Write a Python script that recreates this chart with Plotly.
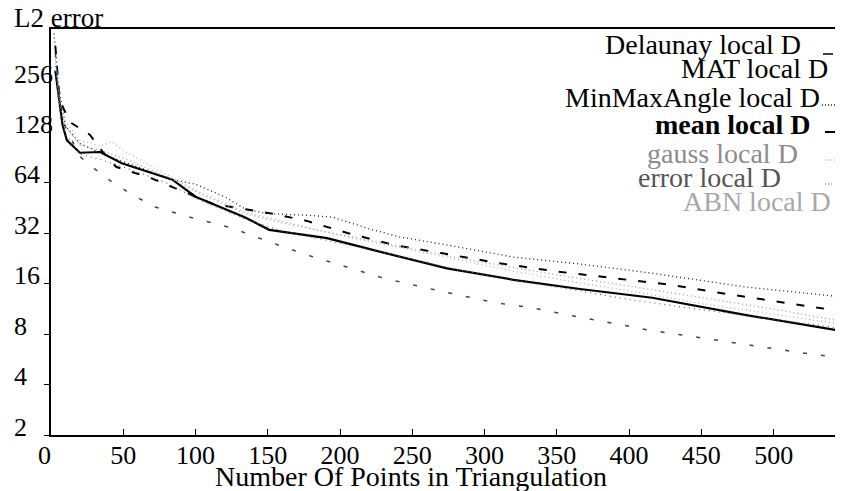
import math
import plotly.graph_objects as go

# ---------------- data ----------------
x_delaunay = [3, 6, 13, 27, 35, 45, 70, 112, 153, 177, 205, 237, 270, 309, 349, 389, 428, 468, 508, 546]
y_delaunay = [420, 200, 148, 124, 100, 80, 68, 48, 42, 38, 32.2, 27.3, 24.4, 21.3, 19.0, 17.3, 15.8, 13.9, 12.3, 11.0]

x_mat = [3, 8, 20, 30, 42, 57, 72, 98, 125, 151, 177, 205, 230, 269, 308, 333, 361, 414, 467, 519, 546]
y_mat = [380, 150, 92, 78, 65, 54, 46, 39.6, 34.5, 28.5, 23.8, 20.2, 17.3, 14.5, 12.3, 11.5, 10.3, 8.46, 7.2, 6.2, 5.8]

x_minmax = [2, 3, 5, 10, 20, 40, 60, 84, 100, 120, 134, 149, 179, 195, 218, 241, 274, 320, 366, 416, 481, 546]
y_minmax = [500, 420, 250, 140, 110, 92, 80, 67, 63, 53, 45, 42, 41, 40, 34.5, 30.5, 27.3, 23.1, 21.0, 18.5, 15.3, 13.4]

x_mean = [3, 5, 8, 11, 20, 34, 49, 84, 100, 134, 151, 191, 228, 274, 320, 366, 416, 481, 546]
y_mean = [300, 215, 142, 115, 97, 98, 84, 67, 53, 40, 33.6, 30, 24.8, 19.8, 16.9, 14.9, 13.2, 10.4, 8.4]

x_gauss = [3, 6, 10, 20, 35, 50, 80, 100, 134, 160, 200, 240, 280, 320, 360, 400, 450, 500, 546]
y_gauss = [350, 190, 140, 108, 100, 90, 70, 57, 42, 37, 31.5, 27, 23, 20, 17.5, 15.5, 13.2, 11.3, 9.6]

x_error = [3, 6, 10, 20, 35, 50, 80, 100, 134, 160, 200, 240, 280, 320, 360, 400, 450, 500, 546]
y_error = [320, 170, 125, 95, 88, 80, 64, 52, 39, 33, 28, 23.5, 19.5, 16.8, 14.8, 12.9, 11.2, 9.8, 8.7]

x_abn = [3, 6, 10, 20, 34, 42, 50, 70, 100, 134, 170, 200, 240, 280, 320, 360, 400, 450, 500, 546]
y_abn = [360, 200, 150, 115, 106, 113, 100, 80, 58, 43, 36, 31, 26.5, 22.5, 19, 16.5, 14.5, 12.2, 10.5, 9.2]

x_ticks = [50, 100, 150, 200, 250, 300, 350, 400, 450, 500]
y_ticks = [2, 4, 8, 16, 32, 64, 128, 256]

legend_names = ["Delaunay local D", "MAT local D", "MinMaxAngle local D", "mean local D",
                "gauss local D", "error local D", "ABN local D"]

# ---------------- figure ----------------
OFF = 8                      # page body margin of the html page
W, H = 843 - OFF, 491 - OFF
L, R, T, B = 51 - OFF, 0, 29 - OFF, 56
PW, PH = W - L - R, H - T - B
FONT = "Liberation Serif"

fig = go.Figure()

styles = [
    (x_delaunay, y_delaunay, dict(color="black", width=2, dash="8px,12px")),
    (x_mat, y_mat, dict(color="#444444", width=1.5, dash="4px,14px")),
    (x_minmax, y_minmax, dict(color="#222222", width=1.3, dash="1px,3px")),
    (x_mean, y_mean, dict(color="black", width=2.2)),
    (x_gauss, y_gauss, dict(color="#9a9a9a", width=1.2, dash="1px,3px")),
    (x_error, y_error, dict(color="#666666", width=1.2, dash="1px,4px")),
    (x_abn, y_abn, dict(color="#b0b0b0", width=1.2, dash="1px,3px")),
]
for (xs, ys, ln), name in zip(styles, legend_names):
    fig.add_trace(go.Scatter(x=xs, y=ys, mode="lines", line=ln, name=name,
                             showlegend=False, hoverinfo="skip"))

fig.update_layout(
    width=W, height=H,
    margin=dict(l=L, r=R, t=T, b=B, autoexpand=False),
    paper_bgcolor="white", plot_bgcolor="white",
    font=dict(family=FONT, color="black", size=26),
)
fig.update_xaxes(
    range=[0, 548], showgrid=False, zeroline=False, automargin=False,
    showline=True, linecolor="black", linewidth=1.5, mirror=True,
    tickmode="array", tickvals=x_ticks, ticktext=[str(v) for v in x_ticks],
    ticks="inside", ticklen=6, tickcolor="black", tickwidth=1,
    ticklabelstandoff=-4,
    tickfont=dict(family=FONT, size=26, color="black"),
)
fig.update_yaxes(
    type="log", range=[math.log10(2), math.log10(532)], showgrid=False, zeroline=False,
    automargin=False,
    showline=True, linecolor="black", linewidth=1.5,
    tickmode="array", tickvals=y_ticks, showticklabels=False,
    ticks="outside", ticklen=5, tickcolor="black", tickwidth=1,
)

ann = []
def px_x(px):
    return (px - OFF - L) / PW
def px_y(py):
    return (H - B - (py - OFF)) / PH

# y tick labels (left aligned, slightly above ticks)
for v in y_ticks:
    ann.append(dict(x=px_x(12), xref="paper", xanchor="left",
                    y=math.log10(v), yref="y", yanchor="middle", yshift=8,
                    text=str(v), showarrow=False,
                    font=dict(family=FONT, size=26, color="black")))
# "0" label on x axis
ann.append(dict(x=0, xref="x", xanchor="center", xshift=-7,
                y=0, yref="paper", yanchor="top", yshift=-4,
                text="0", showarrow=False, font=dict(family=FONT, size=26, color="black")))
# axis titles
ann.append(dict(x=px_x(12), xref="paper", xanchor="left", y=px_y(18), yref="paper",
                yanchor="middle", text="L2 error", showarrow=False,
                font=dict(family=FONT, size=27, color="black")))
ann.append(dict(x=px_x(411), xref="paper", xanchor="center", y=px_y(476), yref="paper",
                yanchor="middle", text="Number Of Points in Triangulation", showarrow=False,
                font=dict(family=FONT, size=28, color="black")))

# legend text (right aligned) + sample marks
leg_right = [803, 830, 822, 813, 800, 783, 833]
leg_y = [45, 69, 97, 124, 153, 177, 201]
leg_col = ["black", "black", "black", "black", "#8c8c8c", "#555555", "#a8a8a8"]
for name, xr, yc, col in zip(legend_names, leg_right, leg_y, leg_col):
    txt = "<b>%s</b>" % name if name.startswith("mean") else name
    ann.append(dict(x=px_x(xr), xref="paper", xanchor="right", y=px_y(yc), yref="paper",
                    yanchor="middle", text=txt, showarrow=False,
                    font=dict(family=FONT, size=28, color=col)))

samples = [
    (823, 833, 54, dict(color="black", width=1.5)),
    (838, 841, 77, dict(color="black", width=1.5)),
    (822, 843, 105, dict(color="#222222", width=1.3, dash="1px,2px")),
    (825, 843, 132, dict(color="black", width=2)),
    (825, 843, 160, dict(color="#9a9a9a", width=1.2, dash="1px,2px")),
    (825, 833, 184, dict(color="#555555", width=1.2, dash="1px,2px")),
    (838, 841, 208, dict(color="#b0b0b0", width=1.2)),
]
shapes = []
for x0, x1, yy, ln in samples:
    shapes.append(dict(type="line", xref="paper", yref="paper",
                       x0=px_x(x0), x1=px_x(x1), y0=px_y(yy), y1=px_y(yy), line=ln))

fig.update_layout(annotations=ann, shapes=shapes)
fig.write_html("out.html")
